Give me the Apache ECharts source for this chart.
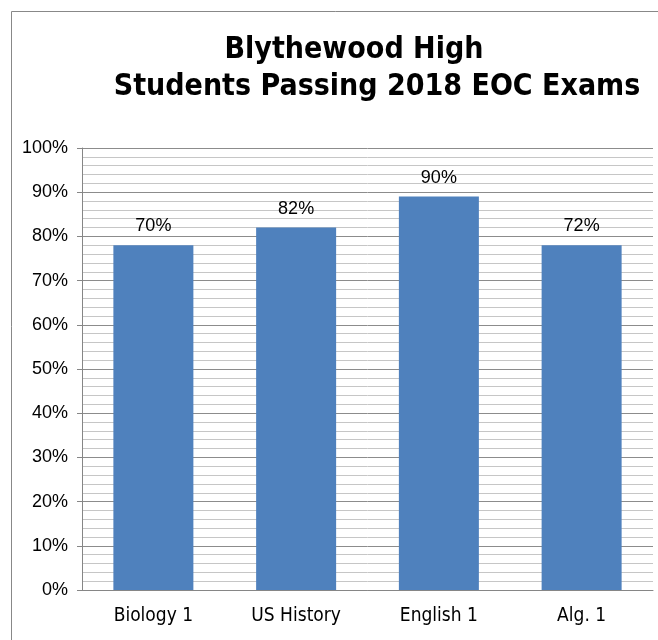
<!DOCTYPE html>
<html>
<head>
<meta charset="utf-8">
<script src="https://cdn.jsdelivr.net/npm/echarts@6/dist/echarts.min.js"></script>
<style>
html, body { margin: 0; padding: 0; background: #fff; }
#chart { width: 658px; height: 640px; }
</style>
</head>
<body>
<div id="chart"></div>
<script>
var categories = ['Biology 1', 'US History', 'English 1', 'Alg. 1'];
// bar heights as drawn in the picture
var barValues = [78, 82, 89, 78];
// the labels printed above the bars
var labelTexts = ['70%', '82%', '90%', '72%'];

var myChart = echarts.init(document.getElementById('chart'));
var option = {
    backgroundColor: '#fff',
    animation: false,
    title: [
        {
            text: 'Blythewood High',
            left: 349,
            top: 30,
            textAlign: 'center',
            textStyle: { fontFamily: 'DejaVu Sans Condensed', fontWeight: 'bold', fontSize: 30, color: '#000' }
        },
        {
            text: 'Students Passing 2018 EOC Exams',
            left: 372,
            top: 67,
            textAlign: 'center',
            textStyle: { fontFamily: 'DejaVu Sans Condensed', fontWeight: 'bold', fontSize: 30, color: '#000' }
        }
    ],
    graphic: [{
        type: 'rect',
        shape: { x: 11.5, y: 11.5, width: 700, height: 700 },
        style: { fill: 'none', stroke: '#888', lineWidth: 1 },
        silent: true
    }],
    grid: { left: 82, right: 5, top: 148, bottom: 50 },
    xAxis: {
        type: 'category',
        data: categories,
        axisLine: { lineStyle: { color: '#868686' } },
        axisTick: { show: false },
        axisLabel: { color: '#000', fontSize: 19, fontFamily: 'DejaVu Sans Condensed', margin: 17 }
    },
    yAxis: {
        type: 'value',
        min: 0,
        max: 100,
        interval: 10,
        axisLine: { show: true, lineStyle: { color: '#868686' } },
        axisTick: { show: true, length: 5, lineStyle: { color: '#868686' } },
        axisLabel: { formatter: '{value}%', color: '#000', fontSize: 18, fontFamily: 'Liberation Sans', margin: 14 },
        splitLine: { lineStyle: { color: '#8c8c8c', width: 1 } },
        minorTick: { show: false, splitNumber: 5 },
        minorSplitLine: { show: true, lineStyle: { color: '#c6c6c6', width: 1 } }
    },
    series: [{
        type: 'bar',
        data: barValues,
        barWidth: 80,
        itemStyle: { color: '#4f81bd' },
        label: {
            show: true,
            position: 'top',
            distance: 10,
            color: '#000',
            fontSize: 18,
            fontFamily: 'Liberation Sans',
            formatter: function (p) { return labelTexts[p.dataIndex]; }
        }
    }]
};
myChart.setOption(option);
</script>
</body>
</html>
